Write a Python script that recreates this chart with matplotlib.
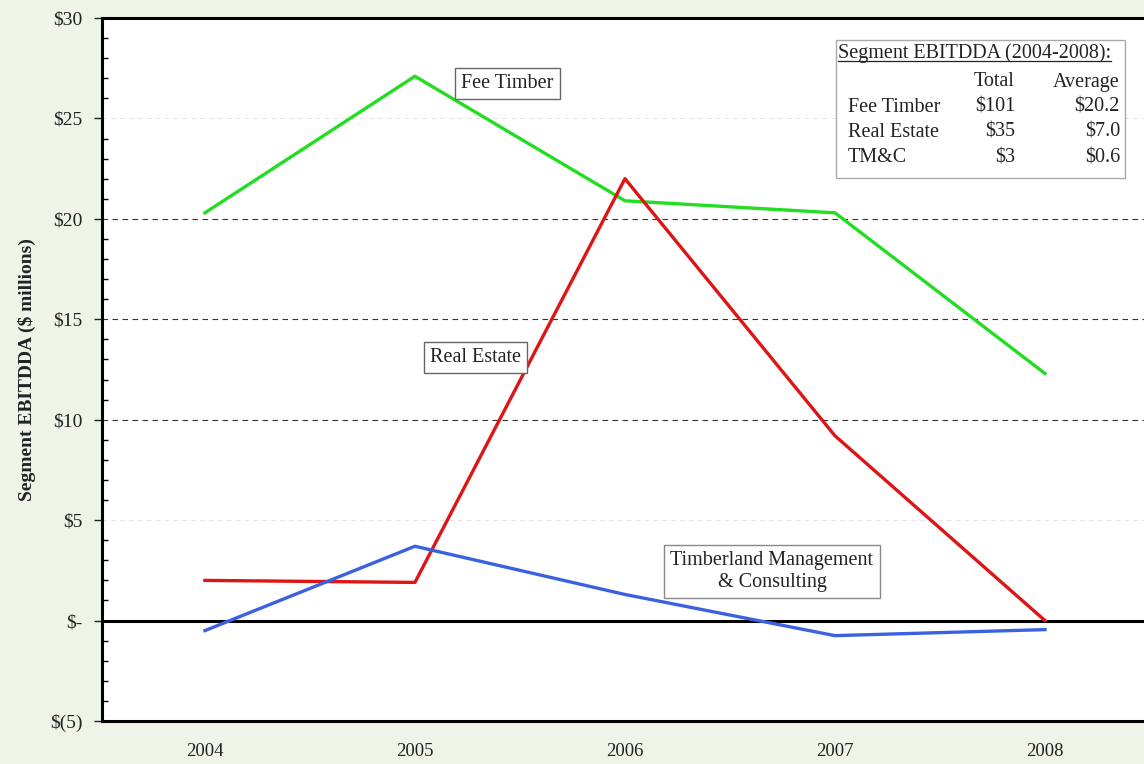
import numpy as np
import matplotlib.pyplot as plt
from matplotlib.ticker import MultipleLocator, FuncFormatter
from matplotlib.lines import Line2D

years = [2004, 2005, 2006, 2007, 2008]
fee_timber = [20.3, 27.1, 20.9, 20.3, 12.3]
real_estate = [2.0, 1.9, 22.0, 9.2, 0.0]
tmc = [-0.5, 3.7, 1.3, -0.75, -0.45]

tbl_segments = ['Fee Timber', 'Real Estate', 'TM&C']
tbl_totals = ['$101', '$35', '$3']
tbl_averages = ['$20.2', '$7.0', '$0.6']

plt.rcParams['font.family'] = ['Liberation Serif', 'DejaVu Serif']
bg = '#eff4e8'
txt = '#222222'

fig = plt.figure(figsize=(11.44, 7.64), dpi=100, facecolor=bg)
ax = fig.add_axes([102/1144, 43/764, 1048/1144, 703/764])
ax.set_facecolor('white')

ax.plot(years, fee_timber, color='#22dd22', lw=2.4)
ax.plot(years, real_estate, color='#dd1515', lw=2.4)
ax.plot(years, tmc, color='#3a62e0', lw=2.4)

ax.set_xlim(2003.51, 2008.5)
ax.set_ylim(-5, 30)

for v in [10, 15, 20]:
    ax.axhline(v, color='#333333', lw=0.8, ls=(0, (5, 4)), zorder=0)
for v in [5, 25]:
    ax.axhline(v, color='#e4e4e4', lw=0.8, ls=(0, (4, 4)), zorder=0)
ax.axhline(0, color='black', lw=2.2, zorder=1)

for s in ['left', 'bottom', 'top']:
    ax.spines[s].set_linewidth(2.2)
ax.spines['right'].set_visible(False)

def money(v, pos):
    v = int(round(v))
    if v == 0:
        return '$-'
    if v < 0:
        return '$(%d)' % abs(v)
    return '$%d' % v

ax.yaxis.set_major_locator(MultipleLocator(5))
ax.yaxis.set_minor_locator(MultipleLocator(1))
ax.yaxis.set_major_formatter(FuncFormatter(money))
ax.tick_params(axis='y', which='major', direction='out', length=6, width=1, labelsize=14, colors=txt, pad=8)
ax.tick_params(axis='y', which='minor', direction='in', length=4, width=1)
ax.set_xticks(years)
ax.set_xticklabels([str(y) for y in years])
ax.tick_params(axis='x', length=0, labelsize=13.5, colors=txt, pad=16)

ax.set_ylabel('Segment EBITDDA ($ millions)', fontsize=14, fontweight='bold', labelpad=10, color=txt)

box = dict(boxstyle='square,pad=0.3', fc='white', ec='#666666', lw=1)
ax.text(2005.44, 26.75, 'Fee Timber', fontsize=14.5, ha='center', va='center', bbox=box, color=txt)
ax.text(2005.29, 13.1, 'Real Estate', fontsize=14.5, ha='center', va='center', bbox=box, color=txt)
ax.text(2006.7, 2.45, 'Timberland Management\n& Consulting', fontsize=14.5, ha='center', va='center',
        bbox=dict(boxstyle='square,pad=0.3', fc='white', ec='#888888', lw=1), linespacing=1.25, color=txt)

# summary table
fig.add_artist(plt.Rectangle((836/1144, 1 - 178/764), 289/1144, 138/764, fc='white', ec='#aaaaaa',
                             lw=1, zorder=1, transform=fig.transFigure))
ttl = fig.text(838/1144, 1 - 53/764, 'Segment EBITDDA (2004-2008):', fontsize=14.5,
               ha='left', va='center', color=txt, zorder=3)
fig.text(1015/1144, 1 - 82/764, 'Total', fontsize=14.5, ha='right', va='center', color=txt, zorder=3)
fig.text(1120/1144, 1 - 82/764, 'Average', fontsize=14.5, ha='right', va='center', color=txt, zorder=3)
for i, (s, t, a) in enumerate(zip(tbl_segments, tbl_totals, tbl_averages)):
    y = 1 - (107 + 25.5 * i) / 764
    fig.text(848/1144, y, s, fontsize=14.5, ha='left', va='center', color=txt, zorder=3)
    fig.text(1015/1144, y, t, fontsize=14.5, ha='right', va='center', color=txt, zorder=3)
    fig.text(1120/1144, y, a, fontsize=14.5, ha='right', va='center', color=txt, zorder=3)

fig.canvas.draw()
bb = ttl.get_window_extent()
fig.add_artist(Line2D([bb.x0 / 1144, bb.x1 / 1144], [(bb.y0 + 2) / 764] * 2, color=txt, lw=0.9, zorder=3))

fig.savefig('out.png', dpi=100, facecolor=bg)
